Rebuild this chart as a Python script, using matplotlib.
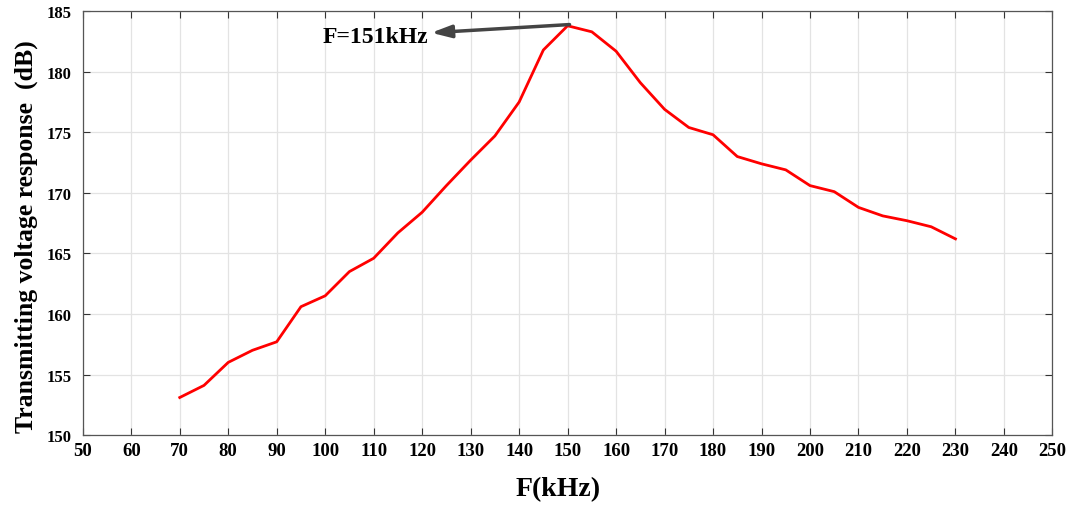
import matplotlib.pyplot as plt
import numpy as np

# measured transmitting voltage response of the transducer
freq = [70, 75, 80, 85, 90, 95, 100, 105, 110, 115, 120, 125, 130, 135, 140,
        145, 150, 155, 160, 165, 170, 175, 180, 185, 190, 195, 200, 205, 210,
        215, 220, 225, 230]
tvr = [153.1, 154.1, 156.0, 157.0, 157.7, 160.6, 161.5, 163.5, 164.6, 166.7,
       168.4, 170.6, 172.7, 174.7, 177.5, 181.8, 183.8, 183.3, 181.7, 179.1,
       176.9, 175.4, 174.8, 173.0, 172.4, 171.9, 170.6, 170.1, 168.8, 168.1,
       167.7, 167.2, 166.2]
peak_f = 151
xticks = np.arange(50, 251, 10)
yticks = np.arange(150, 186, 5)

plt.rcParams['font.family'] = ['Liberation Serif', 'DejaVu Serif']
plt.rcParams['font.weight'] = 'bold'

fig = plt.figure(figsize=(10.75, 5.1), dpi=100)
ax = fig.add_axes([0.077, 0.145, 0.902, 0.831])

ax.plot(freq, tvr, color='#ff0000', linewidth=2)

i = int(np.argmax(tvr))
ax.annotate('F=%dkHz' % peak_f, xy=(freq[i] + 0.4, tvr[i] + 0.1),
            xytext=(121.3, 182.95), ha='right', va='center',
            fontsize=17, fontweight='bold',
            arrowprops=dict(arrowstyle='<|-,head_length=0.7,head_width=0.22',
                            color='#444444', lw=2.5, shrinkA=0, shrinkB=0))

ax.set_xlim(50, 250)
ax.set_ylim(150, 185)
ax.set_xticks(xticks)
ax.set_yticks(yticks)
ax.tick_params(direction='in', top=True, right=True,
               length=5, width=0.8, color='#333333')
ax.tick_params(axis='x', labelsize=13.5, pad=5)
ax.tick_params(axis='y', labelsize=12, pad=8)
for lbl in ax.get_xticklabels() + ax.get_yticklabels():
    lbl.set_fontweight('bold')
ax.grid(True, color='#e3e3e3', linewidth=0.9)
for s in ax.spines.values():
    s.set_color('#555555')
    s.set_linewidth(0.9)

ax.set_xlabel('F(kHz)', fontsize=20, fontweight='bold')
ax.xaxis.set_label_coords(0.49, -0.098)
ax.set_ylabel('Transmitting voltage response  (dB)', fontsize=18.5,
              fontweight='bold')
ax.yaxis.set_label_coords(-0.046, 0.47)

fig.savefig('out.png', dpi=100)
